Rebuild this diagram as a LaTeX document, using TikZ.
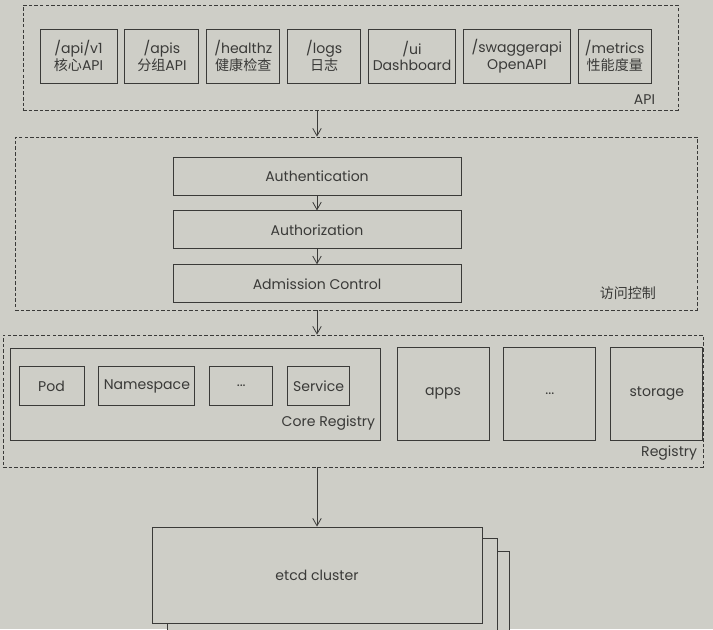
\documentclass[tikz,border=0pt]{standalone}
\usepackage{fontspec}
\setmainfont{Poppins}
\newfontfamily\cjk{Noto Sans CJK SC}
\usepackage{xcolor}
\usetikzlibrary{arrows.meta,positioning,calc}

\definecolor{paper}{RGB}{206,206,199}
\definecolor{ink}{RGB}{58,58,56}

\begin{document}
\begin{tikzpicture}[
    node distance=0.14cm,
    every node/.style={text=ink, font=\fontsize{8}{9.6}\selectfont},
    ep/.style={rectangle, draw=ink, line width=0.5pt, align=center, minimum height=1.08cm, inner sep=1pt},
    layer/.style={rectangle, draw=ink, line width=0.45pt, dash pattern=on 2pt off 1.2pt},
    stage/.style={rectangle, draw=ink, line width=0.5pt, minimum width=5.76cm, minimum height=0.76cm},
    res/.style={rectangle, draw=ink, line width=0.5pt, minimum height=0.78cm, inner sep=1pt},
    group/.style={rectangle, draw=ink, line width=0.5pt, minimum width=1.84cm, minimum height=1.86cm},
    store/.style={rectangle, draw=ink, fill=paper, line width=0.5pt, minimum width=6.6cm, minimum height=1.92cm},
    tag/.style={anchor=south east, inner sep=0pt},
    arrow/.style={-{Straight Barb[length=1.5mm, width=1.7mm]}, line width=0.45pt, draw=ink}
]
    \useasboundingbox (0,0) rectangle (14.26,-12.58);
    \clip (0,0) rectangle (14.26,-12.58);
    \fill [paper] (0,0) rectangle (14.26,-12.58);

    % dashed layers
    \node [layer, minimum width=13.10cm, minimum height=2.10cm] (api) at (7.01,-1.15) {};
    \node [layer, minimum width=13.64cm, minimum height=3.46cm] (acl) at (7.12,-4.47) {};
    \node [layer, minimum width=14.00cm, minimum height=2.64cm] (reg) at (7.06,-8.02) {};
    \node [tag] at ($(api.south east)+(-0.46,0.12)$) {API};
    \node [tag] at ($(acl.south east)+(-0.82,0.20)$) {\cjk 访问控制};
    \node [tag] at ($(reg.south east)+(-0.12,0.14)$) {Registry};

    % API endpoints
    \node [ep, minimum width=1.54cm] (v1) at (1.57,-1.12) {/api/v1\\{\cjk 核心}API};
    \node [ep, minimum width=1.48cm, right=of v1] (apis) {/apis\\{\cjk 分组}API};
    \node [ep, minimum width=1.46cm, right=of apis] (healthz) {/healthz\\{\cjk 健康检查}};
    \node [ep, minimum width=1.46cm, right=of healthz] (logs) {/logs\\{\cjk 日志}};
    \node [ep, minimum width=1.74cm, right=of logs] (ui) {/ui\\Dashboard};
    \node [ep, minimum width=2.14cm, right=of ui] (swagger) {/swaggerapi\\OpenAPI};
    \node [ep, minimum width=1.46cm, right=of swagger] (metrics) {/metrics\\{\cjk 性能度量}};

    % access control
    \node [stage] (authn) at (6.34,-3.52) {Authentication};
    \node [stage, below=0.3cm of authn] (authz) {Authorization};
    \node [stage, below=0.3cm of authz] (admit) {Admission Control};

    % registry
    \node [rectangle, draw=ink, line width=0.5pt, minimum width=7.40cm, minimum height=1.84cm] (core) at (3.90,-7.88) {};
    \node [tag] at ($(core.south east)+(-0.10,0.20)$) {Core Registry};
    \node [res, minimum width=1.30cm] (pod) at (1.03,-7.72) {Pod};
    \node [res, minimum width=1.92cm, right=0.28cm of pod] (ns) {Namespace};
    \node [res, minimum width=1.26cm, right=0.28cm of ns] (more) {...};
    \node [res, minimum width=1.24cm, right=0.28cm of more] (svc) {Service};
    \node [group] (apps) at (8.86,-7.87) {apps};
    \node [group, right=0.28cm of apps] (groups) {...};
    \node [group, right=0.28cm of groups] (storage) {storage};

    % etcd
    \node [store, minimum height=2.2cm] (etcd3) at (6.88,-12.12) {};
    \node [store, minimum height=2.2cm] (etcd2) at (6.64,-11.86) {};
    \node [store] (etcd) at (6.34,-11.50) {etcd cluster};

    \draw [arrow] (api.south -| authn.north) -- (acl.north -| authn.north);
    \draw [arrow] (authn) -- (authz);
    \draw [arrow] (authz) -- (admit);
    \draw [arrow] (acl.south -| authn.north) -- (reg.north -| authn.north);
    \draw [arrow] (reg.south -| etcd.north) -- (etcd.north);
\end{tikzpicture}
\end{document}
